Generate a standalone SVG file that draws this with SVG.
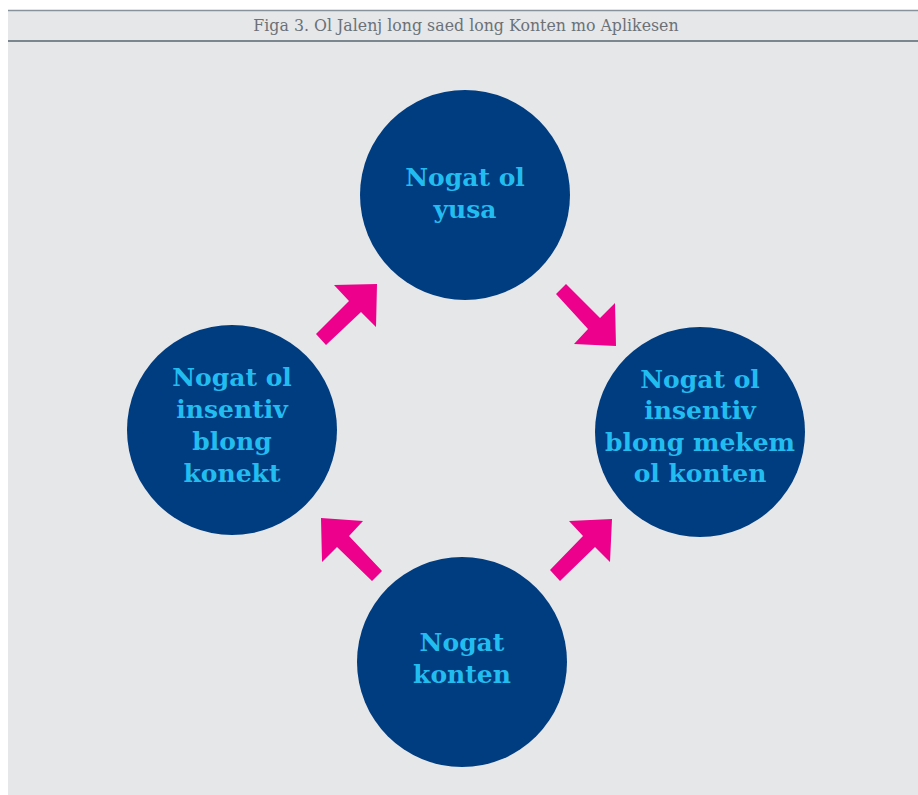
<svg xmlns="http://www.w3.org/2000/svg" width="918" height="795" viewBox="0 0 918 795">
<style>
.node circle{fill:#003c80}
.node text{fill:#22bdf0;font-family:"DejaVu Serif","Liberation Serif",serif;font-weight:bold;font-size:25px;text-anchor:middle}
.arrow{fill:#ec008c}
.title{fill:#6b7177;font-family:"DejaVu Serif","Liberation Serif",serif;font-size:15.8px;text-anchor:middle}
</style>
<rect x="0" y="0" width="918" height="795" fill="#ffffff"/>
<rect x="8" y="10" width="910" height="785" fill="#e6e7e9"/>
<line x1="8" y1="10.5" x2="918" y2="10.5" stroke="#88929a" stroke-width="1.5"/>
<line x1="8" y1="41" x2="918" y2="41" stroke="#7c868e" stroke-width="2"/>
<text class="title" x="466" y="31">Figa 3. Ol Jalenj long saed long Konten mo Aplikesen</text>
<g id="n-top" class="node">
<circle cx="465" cy="195" r="105"/>
<text x="465" y="186">Nogat ol</text>
<text x="465" y="218">yusa</text>
</g>
<g id="n-left" class="node">
<circle cx="232" cy="430" r="105"/>
<text x="232" y="386">Nogat ol</text>
<text x="232" y="418">insentiv</text>
<text x="232" y="450">blong</text>
<text x="232" y="482">konekt</text>
</g>
<g id="n-right" class="node">
<circle cx="700" cy="432" r="105"/>
<text x="700" y="388">Nogat ol</text>
<text x="700" y="419">insentiv</text>
<text x="700" y="451">blong mekem</text>
<text x="700" y="482">ol konten</text>
</g>
<g id="n-bottom" class="node">
<circle cx="462" cy="662" r="105"/>
<text x="462" y="651">Nogat</text>
<text x="462" y="683">konten</text>
</g>
<g id="connectors">
<polygon class="arrow" points="377,284 334,285 349,301 316,334 326,345 361,312 376,327"/>
<polygon class="arrow" points="616,346 574,344 588,329 556,294 566,284 600,318 615,303"/>
<polygon class="arrow" points="321,518 363,521 349,536 382,571 372,581 337,547 322,562"/>
<polygon class="arrow" points="612,519 569,521 583,536 550,570 560,581 595,547 610,562"/>
</g>
</svg>
